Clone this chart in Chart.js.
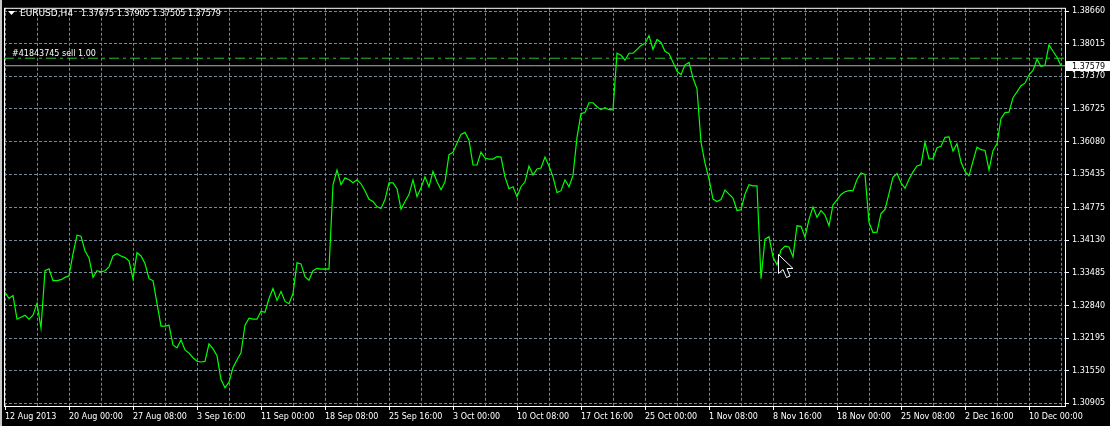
<!DOCTYPE html>
<html>
<head>
<meta charset="utf-8">
<title>EURUSD,H4</title>
<script src="https://cdn.jsdelivr.net/npm/chart.js@4/dist/chart.umd.min.js"></script>
<style>
  html, body { margin: 0; padding: 0; background: #000; }
  canvas { display: block; }
</style>
</head>
<body>
<canvas id="chart" width="1110" height="426"></canvas>
<script>
const symbol = "EURUSD,H4";
const lastBar = [1.37675, 1.37905, 1.37505, 1.37579]; // open, high, low, close
const order = { ticket: 41843745, side: "sell", lots: "1.00", price: 1.37728 };

const dateLabels = [
  "12 Aug 2013", "20 Aug 00:00", "27 Aug 08:00", "3 Sep 16:00", "11 Sep 00:00",
  "18 Sep 08:00", "25 Sep 16:00", "3 Oct 00:00", "10 Oct 08:00", "17 Oct 16:00",
  "25 Oct 00:00", "1 Nov 08:00", "8 Nov 16:00", "18 Nov 00:00", "25 Nov 08:00",
  "2 Dec 16:00", "10 Dec 00:00"
];

const priceTicks = [
  1.30905, 1.31550, 1.32195, 1.32840, 1.33485, 1.34130, 1.34775,
  1.35435, 1.36080, 1.36725, 1.37370, 1.38015, 1.38660
];

// close price, one sample every 2 H4 bars
const closes = [
  1.33101, 1.32978, 1.33037, 1.32568, 1.32607, 1.32646, 1.32568, 1.32646, 1.32881, 1.32392,
  1.33526, 1.33565, 1.33330, 1.33330, 1.33350, 1.33395, 1.33428, 1.33858, 1.34229, 1.34210,
  1.33917, 1.33780, 1.33395, 1.33526, 1.33506, 1.33526, 1.33604, 1.33819, 1.33864, 1.33819,
  1.33786, 1.33721, 1.33369, 1.33883, 1.33819, 1.33668, 1.33369, 1.33330, 1.32881, 1.32431,
  1.32431, 1.32451, 1.32060, 1.32001, 1.32157, 1.31962, 1.31898, 1.31806, 1.31737, 1.31722,
  1.31733, 1.32079, 1.31982, 1.31845, 1.31376, 1.31213, 1.31323, 1.31610, 1.31767, 1.31903,
  1.32451, 1.32587, 1.32568, 1.32568, 1.32724, 1.32705, 1.32978, 1.33174, 1.32939, 1.33115,
  1.32920, 1.32875, 1.33076, 1.33682, 1.33662, 1.33408, 1.33340, 1.33526, 1.33574, 1.33559,
  1.33565, 1.33559, 1.35226, 1.35519, 1.35226, 1.35363, 1.35324, 1.35265, 1.35324, 1.35246,
  1.35109, 1.34939, 1.34894, 1.34796, 1.34757, 1.34933, 1.35265, 1.35265, 1.35148, 1.34743,
  1.34894, 1.35031, 1.35324, 1.34991, 1.35167, 1.35382, 1.35187, 1.35490, 1.35285, 1.35128,
  1.35285, 1.35822, 1.35871, 1.36047, 1.36223, 1.36262, 1.36106, 1.35617, 1.35617, 1.35871,
  1.35754, 1.35734, 1.35734, 1.35783, 1.35773, 1.35382, 1.35148, 1.35187, 1.34991, 1.35187,
  1.35285, 1.35597, 1.35421, 1.35539, 1.35558, 1.35773, 1.35597, 1.35382, 1.35070, 1.35109,
  1.35324, 1.35187, 1.35412, 1.36164, 1.36633, 1.36653, 1.36848, 1.36848, 1.36770, 1.36711,
  1.36751, 1.36711, 1.36706, 1.37826, 1.37786, 1.37689, 1.37826, 1.37826, 1.37904, 1.37982,
  1.38021, 1.38177, 1.37904, 1.38099, 1.38040, 1.37865, 1.37816, 1.37650, 1.37474, 1.37401,
  1.37597, 1.37644, 1.37337, 1.37122, 1.36066, 1.35656, 1.35343, 1.34943, 1.34894, 1.34933,
  1.35122, 1.35040, 1.34962, 1.34718, 1.34732, 1.35040, 1.35226, 1.35206, 1.35206, 1.33369,
  1.34151, 1.34200, 1.33799, 1.33643, 1.33936, 1.34014, 1.33995, 1.33799, 1.34415, 1.34405,
  1.34190, 1.34542, 1.34786, 1.34581, 1.34718, 1.34626, 1.34415, 1.34829, 1.34927, 1.35036,
  1.35089, 1.35109, 1.35109, 1.35330, 1.35461, 1.35431, 1.34483, 1.34282, 1.34288, 1.34659,
  1.34737, 1.35050, 1.35373, 1.35447, 1.35265, 1.35154, 1.35334, 1.35480, 1.35597, 1.35623,
  1.36066, 1.35740, 1.35744, 1.35959, 1.35988, 1.36164, 1.36174, 1.35891, 1.36037, 1.35676,
  1.35490, 1.35402, 1.35695, 1.35969, 1.35920, 1.35904, 1.35519, 1.35900, 1.36037, 1.36536,
  1.36653, 1.36662, 1.36946, 1.37063, 1.37186, 1.37235, 1.37401, 1.37487, 1.37708, 1.37566,
  1.37591, 1.37992, 1.37865, 1.37747, 1.37579
];

const barsPerPoint = 2;
const barsPerGrid = 16;
const barsPerLabel = 32;
const xMin = -0.5, xMax = 530;
const yMin = 1.30852, yMax = 1.38725;

const FONT = "'DejaVu Sans', sans-serif";
const gridColor = "#778899";

Chart.defaults.font.family = FONT;
Chart.defaults.font.size = 8;
Chart.defaults.color = "#ffffff";

let gridTicks = [];
for (let i = 0; i < dateLabels.length * 2; i++) gridTicks.push(i * barsPerGrid);

let last = lastBar[3];

// black canvas, white frame, header texts, price marker, mouse pointer
const terminal = {
  id: "terminal",
  beforeDraw(chart) {
    const { ctx, width, height } = chart;
    ctx.save();
    ctx.fillStyle = "#000";
    ctx.fillRect(0, 0, width, height);
    ctx.fillStyle = "#c8c8c8"; // window edge
    ctx.fillRect(0, 0, 2, height);
    ctx.restore();
  },
  beforeDatasetsDraw(chart) {
    const { ctx, chartArea: a } = chart;
    ctx.save();
    ctx.strokeStyle = "#fff";
    ctx.lineWidth = 1;
    ctx.strokeRect(a.left + 0.5, a.top + 0.5, a.right - a.left, a.bottom - a.top);
    ctx.restore();
  },
  afterDraw(chart) {
    const { ctx } = chart;
    const y = chart.scales.y;
    ctx.save();
    ctx.fillStyle = "#fff";
    ctx.textBaseline = "alphabetic";

    // header
    ctx.beginPath();
    ctx.moveTo(8, 11); ctx.lineTo(15, 11); ctx.lineTo(11.5, 15); ctx.closePath();
    ctx.fill();
    ctx.font = "9px " + FONT;
    ctx.fillText(symbol, 20, 16);
    ctx.font = "8px " + FONT;
    ctx.fillText(lastBar.map(v => v.toFixed(5)).join(" "), 81, 16);

    // order label
    let oy = y.getPixelForValue(order.price);
    ctx.fillText("#" + order.ticket + " " + order.side + " " + order.lots, 12, oy - 2);

    // last price marker on the axis
    let py = Math.round(y.getPixelForValue(last));
    ctx.fillStyle = "#fff";
    ctx.fillRect(1066, py - 5, 44, 10);
    ctx.fillStyle = "#000";
    ctx.textBaseline = "middle";
    ctx.fillText(last.toFixed(5), 1072, py + 0.5);

    // mouse pointer
    ctx.translate(778.5, 254.5);
    ctx.beginPath();
    ctx.moveTo(0, 0); ctx.lineTo(0, 19); ctx.lineTo(4.5, 15); ctx.lineTo(8, 23);
    ctx.lineTo(11.5, 21.5); ctx.lineTo(8.5, 14); ctx.lineTo(14.5, 14); ctx.closePath();
    ctx.fillStyle = "#000";
    ctx.fill();
    ctx.strokeStyle = "#fff";
    ctx.lineWidth = 1;
    ctx.stroke();
    ctx.restore();
  }
};

new Chart(document.getElementById("chart"), {
  type: "line",
  data: {
    datasets: [
      {
        data: closes.map((c, i) => ({ x: i * barsPerPoint, y: c })),
        borderColor: "#00ff00",
        borderWidth: 1.2,
        pointRadius: 0,
        tension: 0,
        order: 0
      },
      {
        data: [{ x: xMin, y: order.price }, { x: xMax, y: order.price }],
        borderColor: "#2ebd2e",
        borderWidth: 1,
        borderDash: [10, 4, 3, 4],
        pointRadius: 0,
        order: 1
      },
      {
        data: [{ x: xMin, y: last }, { x: xMax, y: last }],
        borderColor: "#aab2bd",
        borderWidth: 1,
        pointRadius: 0,
        order: 2
      }
    ]
  },
  options: {
    responsive: false,
    animation: false,
    events: [],
    layout: { padding: { left: 4, top: 4, right: 0, bottom: 0 } },
    plugins: { legend: { display: false }, tooltip: { enabled: false } },
    scales: {
      x: {
        type: "linear",
        min: xMin,
        max: xMax,
        afterBuildTicks: s => { s.ticks = gridTicks.map(v => ({ value: v })); },
        afterFit: s => { s.height = 20; },
        grid: {
          color: gridColor,
          tickLength: 4,
          tickColor: c => (c.tick && c.tick.value % barsPerLabel === 0) ? "#fff" : "rgba(0,0,0,0)"
        },
        border: { display: false, dash: [3, 2] },
        ticks: {
          autoSkip: false,
          maxRotation: 0,
          minRotation: 0,
          align: "start",
          padding: 2,
          color: "#fff",
          callback: v => v % barsPerLabel === 0 ? dateLabels[v / barsPerLabel] : ""
        }
      },
      y: {
        position: "right",
        min: yMin,
        max: yMax,
        afterBuildTicks: s => { s.ticks = priceTicks.map(v => ({ value: v })); },
        afterFit: s => { s.width = 45; },
        grid: { color: gridColor, tickLength: 4, tickColor: "#fff" },
        border: { display: false, dash: [3, 2] },
        ticks: {
          padding: 3,
          color: "#fff",
          callback: v => v.toFixed(5)
        }
      }
    }
  },
  plugins: [terminal]
});
</script>
</body>
</html>
